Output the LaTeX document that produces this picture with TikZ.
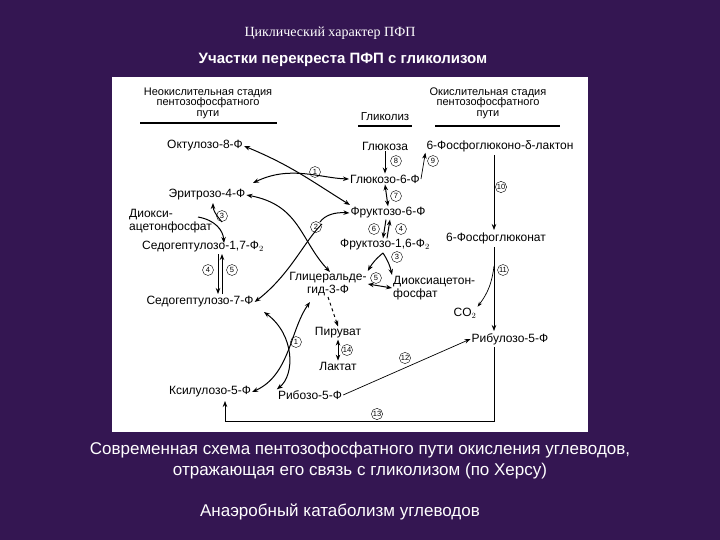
\documentclass[tikz,border=0pt]{standalone}
\usepackage{fontspec}
\setmainfont{Liberation Sans}
\newfontfamily\serifru{Liberation Serif}
\usetikzlibrary{arrows.meta}
\definecolor{bgpurple}{RGB}{52,22,82}
\begin{document}
\begin{tikzpicture}[x=1pt,y=-1pt,
  lbl/.style={font=\fontsize{12}{13}\selectfont, inner sep=1pt, text=black},
  num/.style={circle, draw=black, font=\fontsize{7.5}{7.5}\selectfont, inner sep=0.5pt, minimum size=11pt},
  arr/.style={-{Stealth[length=6pt,width=4.5pt]}, line width=1pt},
  darr/.style={{Stealth[length=6pt,width=4.5pt]}-{Stealth[length=6pt,width=4.5pt]}, line width=1pt},
  thin/.style={-{Stealth[length=5pt,width=3.5pt]}, line width=0.7pt},
  wtext/.style={text=white, font=\fontsize{17}{20}\selectfont}]
\useasboundingbox (0,0) rectangle (720,540);
\fill[bgpurple] (0,0) rectangle (720,540);
\fill[white] (112,77) rectangle (588,432);
\node[text=white, font=\serifru\fontsize{14}{16}\selectfont] (t1) at (330,33) {Циклический характер ПФП};
\node[text=white, font=\bfseries\fontsize{15}{17}\selectfont] (t2) at (343,60) {Участки перекреста ПФП с гликолизом};
\node[wtext] (c1) at (360,450) {Современная схема пентозофосфатного пути окисления углеводов,};
\node[wtext] (c2) at (360,471) {отражающая его связь с гликолизом (по Херсу)};
\node[wtext] (f1) at (340,512) {Анаэробный катаболизм углеводов};
% headers
\node[lbl, align=center, font=\fontsize{11}{10.5}\selectfont] (h1) at (208,103) {Неокислительная стадия\\пентозофосфатного\\пути};
\draw[line width=1.2pt] (140,123) -- (277,123);
\node[lbl, font=\fontsize{11.5}{12}\selectfont] (h2) at (385,117) {Гликолиз};
\draw[line width=1.2pt] (358,126) -- (412,126);
\node[lbl, align=center, font=\fontsize{11}{10.5}\selectfont] (h3) at (488,103) {Окислительная стадия\\пентозофосфатного\\пути};
\draw[line width=1.2pt] (435,126) -- (560,126);
% metabolites
\node[lbl] (okt) at (205,146) {Октулозо-8-Ф};
\node[lbl] (eri) at (207,195) {Эритрозо-4-Ф};
\node[lbl, align=left, anchor=west] (dap1) at (128,221) {Диокси-\\ацетонфосфат};
\node[lbl] (sed17) at (203,247) {Седогептулозо-1,7-Ф$_2$};
\node[lbl] (sed7) at (200,302) {Седогептулозо-7-Ф};
\node[lbl] (xyl) at (210,392) {Ксилулозо-5-Ф};
\node[lbl] (rib) at (310,395) {Рибозо-5-Ф};
\node[lbl, align=center] (gap) at (328,284) {Глицеральде-\\гид-3-Ф};
\node[lbl] (pyr) at (338,333) {Пируват};
\node[lbl] (lac) at (338,366) {Лактат};
\node[lbl] (glc) at (385,146) {Глюкоза};
\node[lbl] (g6p) at (385,179) {Глюкозо-6-Ф};
\node[lbl] (f6p) at (388,213) {Фруктозо-6-Ф};
\node[lbl] (f16) at (385,245) {Фруктозо-1,6-Ф$_2$};
\node[lbl, align=left, anchor=west] (dap2) at (392,288) {Диоксиацетон-\\фосфат};
\node[lbl] (lak) at (500,146) {6-Фосфоглюконо-δ-лактон};
\node[lbl] (pgl) at (496,238) {6-Фосфоглюконат};
\node[lbl] (co2) at (465,313) {CO$_2$};
\node[lbl] (ru5) at (510,339) {Рибулозо-5-Ф};
% numbers
\node[num] (n1a) at (315,172) {1};
\node[num] (n2) at (316,227) {2};
\node[num] (n3a) at (222,216) {3};
\node[num] (n4a) at (208,270) {4};
\node[num] (n5a) at (232,270) {5};
\node[num] (n1b) at (296,342) {1};
\node[num] (n8) at (396,161) {8};
\node[num] (n7) at (396,196) {7};
\node[num] (n6) at (374,229) {6};
\node[num] (n4b) at (401,229) {4};
\node[num] (n3b) at (397,257) {3};
\node[num] (n5b) at (376,278) {5};
\node[num] (n14) at (347,350) {14};
\node[num] (n9) at (433,161) {9};
\node[num] (n10) at (501,187) {10};
\node[num] (n11) at (503,270) {11};
\node[num] (n12) at (405,358) {12};
\node[num] (n13) at (377,414) {13};
% glycolysis
\draw[arr] (glc.south) -- (g6p.north);
\draw[darr] (g6p.south) -- (f6p.north);
\draw[arr] ([xshift=-2pt]f6p.south) -- ([xshift=-2pt]f16.north);
\draw[arr] ([xshift=2pt]f16.north) -- ([xshift=2pt]f6p.south);
\coordinate (fb) at (383,253);
\draw[arr] (fb) to[bend right=10] (gap.north east);
\draw[arr] (fb) to[bend left=10] (dap2.north west);
\draw[darr] (gap.east) -- (dap2.west);
\draw[arr, dashed] (gap.south) -- (pyr.north);
\draw[darr] (pyr.south) -- (lac.north);
% oxidative
\draw[arr, line width=0.7pt] (g6p.east) -- (lak.south west);
\coordinate (o1) at (494,155);
\coordinate (o2) at (494,230);
\coordinate (o3) at (494,247);
\coordinate (o4) at (494,331);
\draw[arr, line width=0.7pt] (o1) -- (o2);
\draw[arr, line width=0.7pt] (o3) -- (o4);
\draw[thin] (494,266) to[bend left=15] (co2.north east);
\draw[arr, line width=0.7pt] (rib.east) -- (ru5.west);
\coordinate (r0) at (494,347);
\coordinate (r1) at (494,421);
\coordinate (r2) at (225,421);
\draw[line width=0.7pt] (r0) -- (r1) -- (r2);
\draw[arr, line width=0.7pt] (r2) -- (225,401);
% non-oxidative curves
\draw[darr] (350,205) .. controls (310,180) and (290,165) .. (okt.east);
\draw[darr] (253,183) .. controls (290,165) and (320,178) .. (g6p.west);
\draw[darr] (330,272) .. controls (300,240) and (300,205) .. (eri.east);
\draw[arr] (320,222) .. controls (325,215) and (335,212) .. (f6p.west);
\draw[arr] (322,224) .. controls (305,240) and (290,275) .. (sed7.east);
\draw[arr] (198,217) .. controls (215,220) and (223,230) .. (224,243);
\draw[arr] (222,222) .. controls (216,215) and (213,210) .. (213,203);
\coordinate (s1) at (218,254);
\coordinate (s2) at (218,294);
\coordinate (s3) at (222,294);
\coordinate (s4) at (222,254);
\draw[arr] (s1) -- (s2);
\draw[arr] (s3) -- (s4);
\draw[darr] (264,312) .. controls (295,335) and (295,375) .. (rib.north west);
\draw[darr] (310,302) .. controls (290,330) and (290,375) .. (xyl.east);
\end{tikzpicture}
\end{document}
